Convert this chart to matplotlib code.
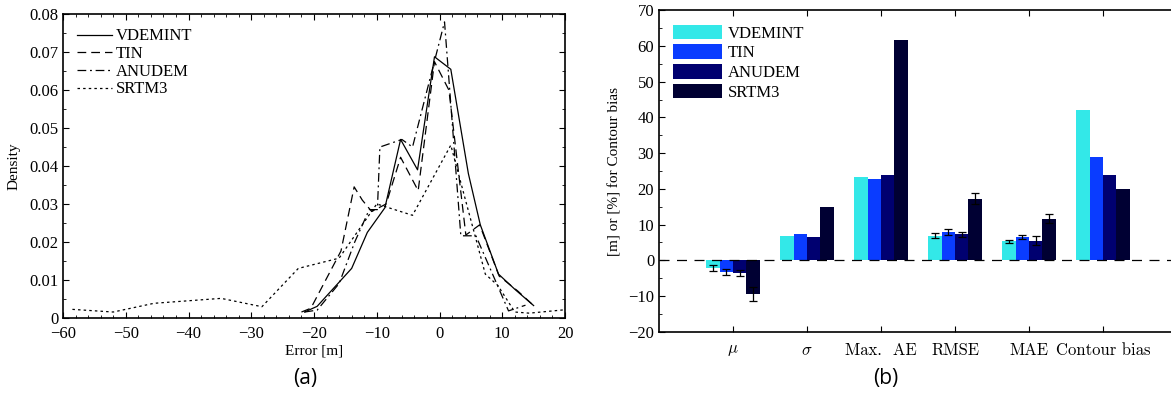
import matplotlib
matplotlib.use("Agg")
import matplotlib.pyplot as plt
from matplotlib.ticker import MultipleLocator, FixedLocator
import numpy as np

plt.rcParams['font.family'] = ['Liberation Serif', 'DejaVu Serif']
plt.rcParams['mathtext.fontset'] = 'cm'

# (a) error density curves
vdemint_x = [-21.5, -19.5, -14, -11.5, -8.7, -6.2, -3.5, -0.8, 1.8, 4.6, 6.5, 9.4, 12, 15]
vdemint_y = [0.0015, 0.003, 0.013, 0.0225, 0.029, 0.047, 0.039, 0.0688, 0.0655, 0.038,
             0.0245, 0.0115, 0.0075, 0.0032]
tin_x = [-22, -20.5, -15.7, -13.6, -12.3, -10.8, -8.5, -6.2, -3.4, -0.8, 1.5, 4.2, 6.4,
         9.5, 12.5, 15]
tin_y = [0.0015, 0.0025, 0.0176, 0.0345, 0.031, 0.028, 0.030, 0.0423, 0.0335, 0.0675,
         0.060, 0.0218, 0.0245, 0.011, 0.007, 0.0032]
anudem_x = [-21.5, -19.5, -16, -13.5, -11.2, -9.9, -9.5, -6, -4.3, 0.8, 3.4, 5.8, 11, 13.7]
anudem_y = [0.0015, 0.002, 0.009, 0.02, 0.0285, 0.0285, 0.045, 0.047, 0.045, 0.078,
            0.0216, 0.0216, 0.0018, 0.0033]
srtm3_x = [-58.5, -52, -45.5, -34.8, -28.3, -22.5, -16, -10, -4.3, 1.8, 7.3, 9.3, 12,
           14.3, 20]
srtm3_y = [0.0022, 0.0015, 0.0038, 0.0051, 0.0029, 0.013, 0.0157, 0.030, 0.027, 0.0455,
           0.0115, 0.0085, 0.0015, 0.0012, 0.0021]

# (b) error statistics
stats = [r'$\mu$', r'$\sigma$', 'Max.  AE', 'RMSE', 'MAE', 'Contour bias']
names = ['VDEMINT', 'TIN', 'ANUDEM', 'SRTM3']
vdemint_v = [-2.1, 6.7, 23.3, 6.9, 5.3, 42.0]
tin_v = [-3.3, 7.5, 22.7, 8.0, 6.4, 28.9]
anudem_v = [-3.55, 6.4, 23.9, 7.3, 5.5, 23.9]
srtm3_v = [-9.4, 14.8, 61.6, 17.3, 11.7, 20.0]
nan = np.nan
vdemint_e = [0.85, nan, nan, 0.7, 0.5, nan]
tin_e = [0.95, nan, nan, 0.8, 0.55, nan]
anudem_e = [0.8, nan, nan, 0.7, 1.3, nan]
srtm3_e = [1.9, nan, nan, 1.6, 1.3, nan]

colors = ['#33e8e8', '#0a3cff', '#000070', '#000033']

fig = plt.figure(figsize=(11.71, 4.17), dpi=100)

# ---- left: density
ax1 = fig.add_axes([0.0538, 0.2381, 0.4287, 0.7276])
lw = 0.9
ax1.plot(vdemint_x, vdemint_y, color='k', lw=lw, ls='-', label='VDEMINT')
ax1.plot(tin_x, tin_y, color='k', lw=lw, ls=(0, (7, 4)), label='TIN')
ax1.plot(anudem_x, anudem_y, color='k', lw=lw, ls=(0, (7, 3, 1.5, 3)), label='ANUDEM')
ax1.plot(srtm3_x, srtm3_y, color='k', lw=lw, ls=(0, (2, 2.5)), label='SRTM3')
ax1.set_xlim(-60, 20)
ax1.set_ylim(0, 0.08)
ax1.xaxis.set_major_locator(MultipleLocator(10))
ax1.xaxis.set_minor_locator(MultipleLocator(2))
ax1.yaxis.set_major_locator(MultipleLocator(0.01))
ax1.yaxis.set_minor_locator(MultipleLocator(0.005))
ax1.set_yticklabels(['0' if abs(v) < 1e-9 else f'{v:.2f}' for v in ax1.get_yticks()])
ax1.tick_params(which='both', direction='in', top=True, right=True, labelsize=12)
ax1.tick_params(which='major', length=4)
ax1.tick_params(which='minor', length=2)
ax1.tick_params(axis='x', pad=6)
ax1.set_xlabel('Error [m]', fontsize=11, labelpad=2)
ax1.set_ylabel('Density', fontsize=11, labelpad=6)
ax1.legend(loc='upper left', frameon=False, fontsize=12, handlelength=2.1,
           labelspacing=0.1, borderaxespad=0.45, handletextpad=0.2)
for s in ax1.spines.values():
    s.set_linewidth(1.2)

# ---- right: grouped bars
ax2 = fig.add_axes([0.5628, 0.2046, 0.4424, 0.7705])
x = np.arange(1, len(stats) + 1)
w = 0.18
vals = [vdemint_v, tin_v, anudem_v, srtm3_v]
errs = [vdemint_e, tin_e, anudem_e, srtm3_e]
for i, (v, e) in enumerate(zip(vals, errs)):
    pos = x + (i - 1.5) * w
    ax2.bar(pos, v, width=w, color=colors[i], label=names[i], zorder=2)
    ax2.errorbar(pos, v, yerr=e, fmt='none', ecolor='k', elinewidth=0.9,
                 capsize=3, capthick=0.9, zorder=4)
ax2.axhline(0, color='k', lw=0.9, ls=(0, (8, 6)), zorder=3)
ax2.set_xlim(0, 7)
ax2.set_ylim(-20, 70)
ax2.xaxis.set_major_locator(FixedLocator(x))
ax2.set_xticklabels(stats, fontsize=11, family='cmr10')
ax2.yaxis.set_major_locator(MultipleLocator(10))
ax2.yaxis.set_minor_locator(MultipleLocator(5))
ax2.set_yticklabels([f'{int(v)}'.replace('-', '\u2212') for v in ax2.get_yticks()])
ax2.tick_params(which='both', direction='in', top=True, right=False, labelsize=12)
ax2.tick_params(axis='x', which='major', length=4, pad=8)
ax2.tick_params(axis='y', which='major', length=4)
ax2.tick_params(which='minor', length=2)
ax2.set_ylabel('[m] or [%] for Contour bias', fontsize=11, labelpad=5)
ax2.spines['right'].set_visible(False)
for s in ['left', 'top', 'bottom']:
    ax2.spines[s].set_linewidth(1.2)
ax2.legend(loc='upper left', frameon=False, fontsize=12, handlelength=2.9,
           handleheight=1.0, labelspacing=0.15, borderaxespad=0.45, handletextpad=0.4)

fig.text(0.261, 0.093, '(a)', fontsize=15, family='Open Sans', ha='center', va='center')
fig.text(0.756, 0.093, '(b)', fontsize=15, family='Open Sans', ha='center', va='center')

fig.savefig('out.png', dpi=100)
